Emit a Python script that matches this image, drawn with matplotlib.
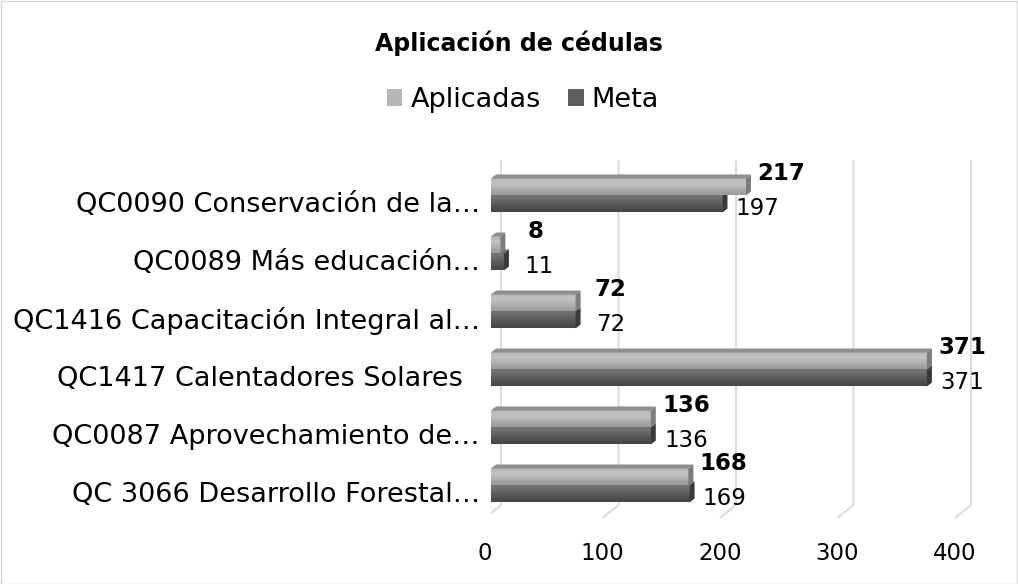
import matplotlib
matplotlib.use("Agg")
import matplotlib.pyplot as plt
import matplotlib.transforms as mtransforms
import numpy as np
from matplotlib.colors import LinearSegmentedColormap
from matplotlib.patches import Patch, Polygon, Rectangle

# data
categories = ["QC0090 Conservación de la…", "QC0089 Más educación…",
              "QC1416 Capacitación Integral al…", "QC1417 Calentadores Solares  ",
              "QC0087 Aprovechamiento de…", "QC 3066 Desarrollo Forestal…"]
aplicadas = [217, 8, 72, 371, 136, 168]
meta = [197, 11, 72, 371, 136, 169]
ticks = [0, 100, 200, 300, 400]
series = ["Aplicadas", "Meta"]

plt.rcParams["font.family"] = ["DejaVu Sans"]
FS_CAT = 19.5
FS_VAL = 16.5
FS_TICK = 16.5
PX = 1.175   # pixels per data unit along x
ROW = 58.0   # pixels per category row
W, H = 1018, 584

cm_apl = LinearSegmentedColormap.from_list("apl", ["#b6b6b6", "#c2c2c2", "#b9b9b9", "#a7a7a7", "#9b9b9b"])
cm_met = LinearSegmentedColormap.from_list("met", ["#777777", "#6c6c6c", "#5d5d5d", "#505050", "#464646"])
grad = np.linspace(0, 1, 64).reshape(-1, 1)

fig = plt.figure(figsize=(W / 100, H / 100), dpi=100)
ax = fig.add_axes([491 / W, 1 - 530 / H, 493.5 / W, 380 / H])
xlim = (0, 420)
ylim = ((530 - 195.5) / ROW, (150 - 195.5) / ROW)
ax.patch.set_alpha(0)
for s in ax.spines.values():
    s.set_visible(False)

bh = 17 / ROW          # front face height of one bar
dx = 5 / PX            # 3d depth offset
dy = 4 / ROW

# 3d-ish gridlines: back wall vertical + slanted floor segment
y_top = (160 - 195.5) / ROW
y_back = (505 - 195.5) / ROW
y_front = (518 - 195.5) / ROW
for v in ticks:
    xb, xf = v + 10 / PX, v - 6 / PX
    ax.plot([xf, xb, xb], [y_front, y_back, y_top], color="#dadada", lw=1.4, zorder=0,
            solid_capstyle="butt")
ax.plot([-6 / PX, -6 / PX], [(172 - 195.5) / ROW, y_front], color="#dadada", lw=1.4, zorder=0)


def bar3d(x, y0, cmap, top_c, side_c, z):
    # front face (gradient), top face, right side face
    ax.imshow(grad, extent=[0, x, y0 + bh, y0], cmap=cmap, vmin=0, vmax=1,
              aspect="auto", interpolation="bilinear", zorder=z)
    ax.add_patch(Polygon([(0, y0), (dx, y0 - dy), (x + dx, y0 - dy), (x, y0)],
                         closed=True, fc=top_c, ec="none", zorder=z))
    ax.add_patch(Polygon([(x, y0), (x + dx, y0 - dy), (x + dx, y0 + bh - dy), (x, y0 + bh)],
                         closed=True, fc=side_c, ec="none", zorder=z + 0.1))


for i, (a, m) in enumerate(zip(aplicadas, meta)):
    bar3d(m, i, cm_met, "#6e6e6e", "#3a3a3a", 2)
    bar3d(a, i - bh, cm_apl, "#8e8e8e", "#7c7c7c", 3)
    ax.text(a + 30, i - 0.38, str(a), ha="center", va="center", fontsize=FS_VAL,
            fontweight="bold", color="black", zorder=5)
    ax.text(m + 30, i + 0.22, str(m), ha="center", va="center", fontsize=FS_VAL,
            color="black", zorder=5)

ax.set_xlim(*xlim)
ax.set_ylim(*ylim)

ax.set_yticks([i + 0.12 for i in range(len(categories))])
ax.set_yticklabels(categories)
ax.tick_params(axis="y", length=0, pad=8, labelsize=FS_CAT)
ax.set_xticks(ticks)
ax.set_xticklabels([str(t) for t in ticks])
ax.tick_params(axis="x", length=0, pad=9, labelsize=FS_TICK)
shift = mtransforms.ScaledTranslation(-6 / 100, 0, fig.dpi_scale_trans)
for lab in ax.get_xticklabels():
    lab.set_transform(lab.get_transform() + shift)

fig.text(519 / W, 1 - 43 / H, "Aplicación de cédulas", ha="center", va="center",
         fontsize=17, fontweight="bold", color="black")

handles = [Patch(facecolor="#b6b6b6", edgecolor="none"), Patch(facecolor="#5e5e5e", edgecolor="none")]
fig.legend(handles, series, loc="center", bbox_to_anchor=(523 / W, 1 - 100 / H), ncol=2,
           frameon=False, fontsize=FS_CAT, handlelength=0.58, handleheight=0.58,
           handletextpad=0.3, columnspacing=1.0)

fig.add_artist(Rectangle((0.5 / W, 0.5 / H), 1 - 1.5 / W, 1 - 1.5 / H, transform=fig.transFigure,
                         fill=False, ec="#d9d9d9", lw=1))

fig.savefig("out.png", dpi=100)
